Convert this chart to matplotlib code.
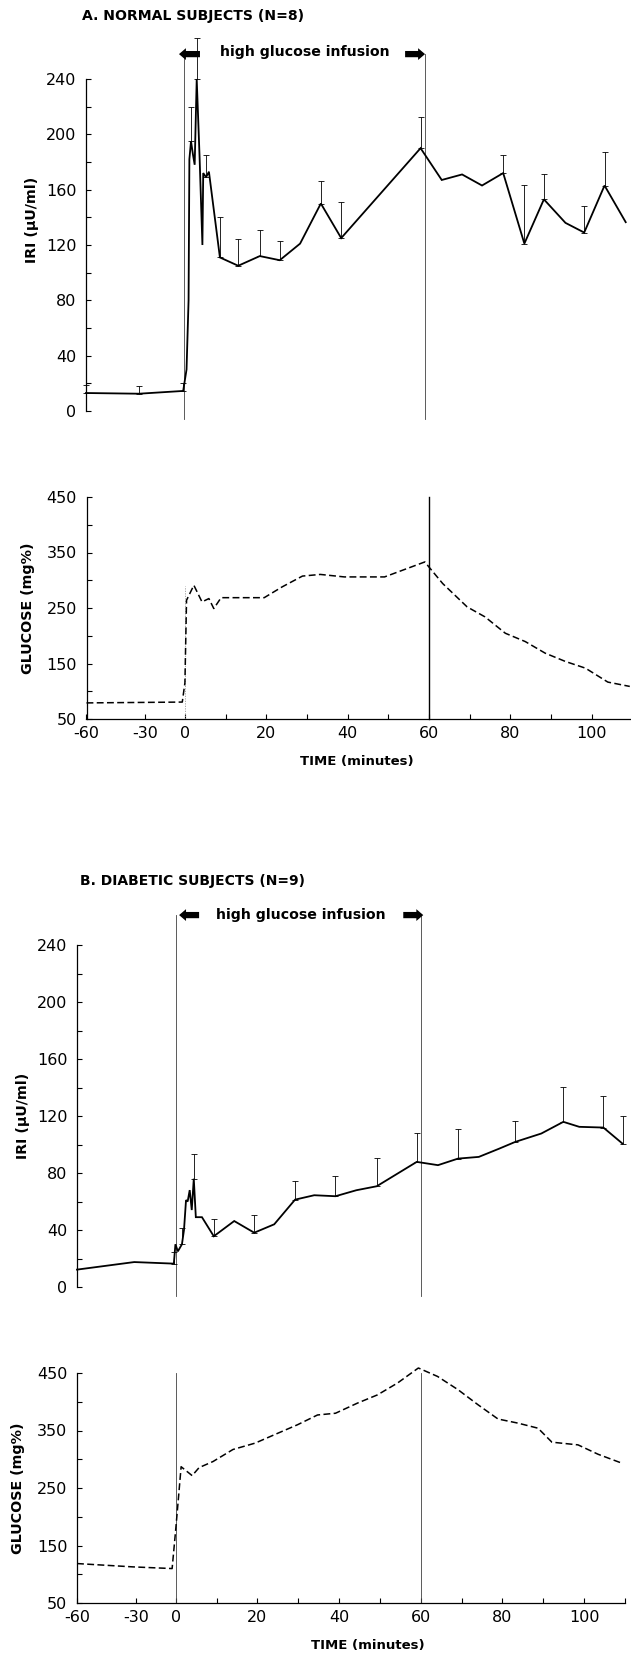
import numpy as np
import matplotlib
matplotlib.use("Agg")
import matplotlib.pyplot as plt
from matplotlib.patches import ArrowStyle

plt.rcParams['font.family'] = ['DejaVu Sans']

# ---------------- data ----------------
# Panel A: normal subjects
tA = [-60, -33, -1, 0.5, 1.0, 1.2, 1.6, 2.1, 2.5, 3.0, 3.7, 4.4, 4.6, 5.3, 6.0, 8.7,
      13.2, 18.5, 23.4, 28.4, 33.5, 38.5, 58.0, 63.2, 68.2, 73.1, 78.3, 83.5, 88.3,
      93.6, 98.2, 103.2, 108.4]
iriA = [13, 12.5, 14.5, 30, 80, 182, 195, 185, 178, 240, 184, 120, 172, 169, 173, 111,
        105, 112, 109, 121, 150, 125, 190, 167, 171, 163, 172, 121, 153,
        136, 129, 163, 136.5]
semA = [5.5, 5.8, 6, np.nan, np.nan, np.nan, 25, np.nan, np.nan, 30, np.nan, np.nan, np.nan, 16, np.nan, 29,
        19, 19, 14, np.nan, 16, 26, 22.5, np.nan, np.nan, np.nan, 13, 42.5, 18,
        np.nan, 19, 24, np.nan]

tGA = [-60, -2, 0, 0.4, 2.2, 4.2, 5.9, 7.1, 8.9, 19.5, 23.9, 28.9, 33.3, 39.2, 49.1,
       59.0, 60.0, 63.4, 69.4, 73.8, 78.8, 83.7, 88.6, 93.6, 98.5, 104.0, 109.4]
gluA = [79, 80.5, 115, 264, 291, 261, 267, 249, 268.6, 268.6, 288, 307.5, 310.5, 306, 306,
        333, 324, 294, 252, 234, 204.5, 189.5, 168.6, 153.6, 141.6, 116.5, 108.7]

# Panel B: diabetic subjects
tB = [-60, -31, -1.5, -0.3, 0.5, 1.5, 2.0, 2.5, 2.9, 3.4, 3.9, 4.4, 4.9, 6.4, 9.3,
      14.3, 19.2, 24.1, 29.2, 33.9, 39.1, 44.2, 49.2, 59.0, 64.2, 69.1, 74.2, 79.2,
      83.1, 89.5, 94.9, 98.8, 104.7, 109.4]
iriB = [12.2, 17.5, 16.4, 30, 25, 30, 40, 61, 60, 68, 54, 76, 49, 49, 35.6,
        46.3, 38.1, 44, 61.3, 64.4, 63.7, 67.9, 70.7, 87.8, 85.5, 90.1, 91.3, 97.1,
        101.8, 107.7, 115.9, 112.4, 111.9, 100.6]
semB = [np.nan, np.nan, 8, np.nan, np.nan, 11.6, np.nan, np.nan, np.nan, np.nan, np.nan, 17.5, np.nan, np.nan, 12.4,
        np.nan, 12.2, np.nan, 12.9, np.nan, 14.3, np.nan, 19.9, 20.4, np.nan, 21.1, np.nan, np.nan,
        14.5, np.nan, 24.6, np.nan, 22.3, 19.5]

tGB = [-60, -31.6, -2.8, 0, 1.3, 4.0, 5.7, 9.1, 14.0, 19.4, 24.9, 29.8, 34.7, 39.1,
       44.5, 49.4, 54.3, 59.4, 64.1, 69.1, 74.0, 78.9, 83.8, 88.7, 92.1, 98.5, 103.4, 109.3]
gluB = [118.6, 112.8, 109.9, 179.7, 287, 271.5, 285.5, 296, 317, 328, 345, 360, 377, 380,
        397.7, 412, 432.6, 458.7, 444, 421, 394.8, 370, 362.8, 354, 329.7, 325, 308.7, 293]

x_major = [-60, -30, 0, 20, 40, 60, 80, 100]
x_major_labels = ['-60', '-30', '0', '20', '40', '60', '80', '100']
x_minor = [10, 30, 50, 70, 90, 110]
iri_major = [0, 40, 80, 120, 160, 200, 240]
iri_minor = [20, 60, 100, 140, 180, 220]
glu_major = [50, 150, 250, 350, 450]
glu_minor = [100, 200, 300, 400]

# ---------------- broken time axis (pre-infusion compressed) ----------------
def fwd(x):
    x = np.asarray(x, dtype=float)
    return np.where(x >= 0, x,
                    np.where(x >= -30, x * 9.7 / 30.0, -9.7 + (x + 30) * 14.5 / 30.0))

def inv(u):
    u = np.asarray(u, dtype=float)
    return np.where(u >= 0, u,
                    np.where(u >= -9.7, u * 30.0 / 9.7, -30 + (u + 9.7) * 30.0 / 14.5))

W, H = 631, 1655
fig = plt.figure(figsize=(W / 100, H / 100), dpi=100)
fig.patch.set_facecolor('white')

def add_ax(left, right, top, bottom):
    return fig.add_axes([left / W, 1 - bottom / H, (right - left) / W, (bottom - top) / H])

TICKFS = 11.5
LABFS = 10.3

def style_common(ax, xmax):
    ax.set_xscale('function', functions=(fwd, inv))
    ax.set_xlim(-60, xmax)
    ax.spines['top'].set_visible(False)
    ax.spines['right'].set_visible(False)
    for s in ax.spines.values():
        s.set_linewidth(0.9)
    ax.tick_params(which='both', direction='in', length=3.4, width=0.8, labelsize=TICKFS, pad=7)
    ax.patch.set_alpha(0)

def iri_axes(ax, xmax):
    style_common(ax, xmax)
    ax.spines['bottom'].set_visible(False)
    ax.set_ylim(0, 240)
    ax.set_yticks(iri_major)
    ax.set_yticks(iri_minor, minor=True)
    ax.set_yticklabels([str(v) for v in iri_major])
    ax.tick_params(axis='x', which='both', bottom=False, labelbottom=False)

def glu_axes(ax, xmax):
    style_common(ax, xmax)
    ax.set_ylim(50, 450)
    ax.set_yticks(glu_major)
    ax.set_yticks(glu_minor, minor=True)
    ax.set_yticklabels([str(v) for v in glu_major])
    ax.set_xticks(x_major)
    ax.set_xticklabels(x_major_labels)
    ax.set_xticks([v for v in x_minor if v <= xmax], minor=True)
    ax.tick_params(axis='x', which='both', pad=5)

def draw_iri(ax, t, v, sem):
    ax.plot(t, v, color='black', lw=1.3, clip_on=False, solid_joinstyle='miter')
    sem = np.asarray(sem, dtype=float)
    m = ~np.isnan(sem)
    tt = np.asarray(t, dtype=float)[m]
    vv = np.asarray(v, dtype=float)[m]
    cont = ax.errorbar(tt, vv, yerr=[np.zeros(m.sum()), sem[m]], fmt='none',
                       ecolor='black', elinewidth=0.6, capsize=1.9, capthick=0.6)
    for a in list(cont.lines[1]) + list(cont.lines[2]):
        a.set_clip_on(False)

def draw_glu(ax, t, v):
    ax.plot(t, v, color='black', lw=1.1, dashes=(4.5, 2.2), clip_on=False)

arrow_style = ArrowStyle.Simple(head_length=0.5, head_width=0.85, tail_width=0.45)

def infusion_marks(ax, y_top, left_tip, left_tail, right_tail, right_tip, line0, line60):
    for xl in (line0, line60):
        ax.plot([xl, xl], [-6, y_top], color='0.25', lw=0.6, clip_on=False)
    for tail, tip in ((left_tail, left_tip), (right_tail, right_tip)):
        ax.annotate('', xy=(tip, y_top), xytext=(tail, y_top),
                    arrowprops=dict(arrowstyle=arrow_style, color='black', lw=0,
                                    shrinkA=0, shrinkB=0, mutation_scale=10),
                    annotation_clip=False)

# ---------------- Panel A ----------------
axIA = add_ax(86, 631, 79, 411)
iri_axes(axIA, 109.7)
infusion_marks(axIA, 258, -4.2, 3.8, 54.2, 59.1, 0, 59)
draw_iri(axIA, tA, iriA, semA)

axGA = add_ax(86.5, 631, 497, 719)
glu_axes(axGA, 109.7)
axGA.plot([60, 60], [50, 450], color='black', lw=1.0, clip_on=False)
axGA.plot([0, 0], [50, 290], color='0.6', lw=0.6, ls=(0, (1.5, 1.5)))
draw_glu(axGA, tGA, gluA)

fig.text(82 / W, 1 - 16 / H, 'A. NORMAL SUBJECTS (N=8)', fontsize=10.1, fontweight='bold',
         ha='left', va='center')
fig.text(305 / W, 1 - 52 / H, 'high glucose infusion', fontsize=10.2, fontweight='bold',
         ha='center', va='center')
fig.text(32 / W, 1 - 220 / H, 'IRI (\u03bcU/ml)', fontsize=LABFS, fontweight='bold',
         rotation=90, ha='center', va='center')
fig.text(28 / W, 1 - 608 / H, 'GLUCOSE (mg%)', fontsize=LABFS, fontweight='bold',
         rotation=90, ha='center', va='center')
fig.text(357 / W, 1 - 761 / H, 'TIME (minutes)', fontsize=9.5, fontweight='bold',
         ha='center', va='center')

# ---------------- Panel B ----------------
axIB = add_ax(77, 625, 945, 1287)
iri_axes(axIB, 110)
infusion_marks(axIB, 261, 0.8, 5.7, 55.7, 60.6, 0, 60)
draw_iri(axIB, tB, iriB, semB)

axGB = add_ax(77, 625, 1373, 1603)
glu_axes(axGB, 110)
for xl in (0, 60):
    axGB.plot([xl, xl], [50, 450], color='0.25', lw=0.6, clip_on=False)
draw_glu(axGB, tGB, gluB)

fig.text(80 / W, 1 - 881 / H, 'B. DIABETIC SUBJECTS (N=9)', fontsize=10.0, fontweight='bold',
         ha='left', va='center')
fig.text(301 / W, 1 - 915 / H, 'high glucose infusion', fontsize=10.2, fontweight='bold',
         ha='center', va='center')
fig.text(23 / W, 1 - 1116 / H, 'IRI (\u03bcU/ml)', fontsize=LABFS, fontweight='bold',
         rotation=90, ha='center', va='center')
fig.text(18 / W, 1 - 1488 / H, 'GLUCOSE (mg%)', fontsize=LABFS, fontweight='bold',
         rotation=90, ha='center', va='center')
fig.text(368 / W, 1 - 1645 / H, 'TIME (minutes)', fontsize=9.5, fontweight='bold',
         ha='center', va='center')

fig.savefig('out.png', dpi=100, facecolor='white')
